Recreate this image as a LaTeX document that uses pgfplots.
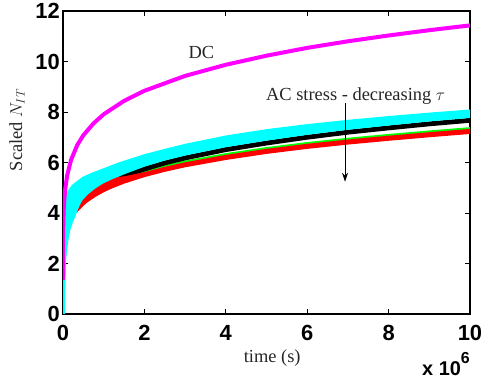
\documentclass[border=0pt]{standalone}
\usepackage{pgfplots}
\pgfplotsset{compat=1.18}
\usepackage{fontspec}
\setmainfont{Liberation Serif}
\setsansfont{Liberation Sans}
\usetikzlibrary{arrows.meta}

\begin{document}
\begin{tikzpicture}
\begin{axis}[
  scale only axis, width=407bp, height=303bp,
  xmin=0, xmax=10, ymin=0, ymax=12,
  xtick={0,2,4,6,8,10}, ytick={0,2,4,6,8,10,12},
  tick align=inside, major tick length=5bp,
  axis line style={line width=1.2bp},
  tick style={line width=0.8bp, black},
  /pgf/number format/assume math mode=true,
  ticklabel style={font=\fontsize{22}{22}\selectfont\sffamily\bfseries},
  xticklabel style={inner sep=0pt, yshift=-11bp},
  yticklabel style={inner sep=0pt, xshift=-3bp},
  xlabel={time (s)}, ylabel={Scaled $N_{IT}$},
  label style={font=\fontsize{18.5}{20}\selectfont, text=black!85},
  xlabel style={at={(axis description cs:0.514,-0.145)}, anchor=center},
  ylabel style={at={(axis description cs:-0.113,0.607)}, anchor=center},
]
% green
\addplot[color={rgb,1:red,0;green,1;blue,0}, line width=4bp] coordinates {
(1.5,5.35) (2,5.61) (2.5,5.82) (3,6.00) (4,6.29) (5,6.53) (6,6.73) (7,6.90) (8,7.05) (9,7.19) (10,7.32)};
% black
\addplot[black, line width=4.8bp] coordinates {
(1.2,5.24) (1.5,5.45) (2,5.74) (2.5,5.98) (3,6.18) (4,6.51) (5,6.77) (6,7.00) (7,7.20) (8,7.37) (9,7.53) (10,7.67)};
% red band
\addplot[draw=none, fill={rgb,1:red,1;green,0;blue,0}] coordinates {
(0.34,4.01) (0.4,4.12) (0.5,4.28) (0.6,4.42) (0.8,4.64) (1,4.82) (1.2,4.97) (1.5,5.16) (2,5.42) (2.5,5.63) (3,5.81) (4,6.10) (5,6.34) (6,6.54) (7,6.71) (8,6.86) (9,7.00) (10,7.13)
(10,7.33) (9,7.20) (8,7.06) (7,6.91) (6,6.74) (5,6.54) (4,6.30) (3,6.01) (2.5,5.83) (2,5.62) (1.5,5.45) (1.2,5.42) (1,5.30) (0.8,5.10) (0.6,4.85) (0.5,4.70) (0.4,4.50) (0.34,4.35)};
% cyan band
\addplot[draw=none, fill={rgb,1:red,0;green,1;blue,1}] coordinates {
(0.005,0) (0.006,3.0) (0.01,3.6) (0.03,4.3) (0.06,4.65) (0.1,4.84) (0.22,5.11) (0.467,5.42) (0.7,5.59) (0.91,5.72) (1.2,5.90) (1.4,6.02) (2,6.33) (2.5,6.54) (3,6.74) (4,7.07) (5,7.32) (6,7.52) (7,7.69) (8,7.84) (9,7.975) (10,8.10)
(10,7.765) (9,7.625) (8,7.465) (7,7.295) (6,7.095) (5,6.865) (4,6.605) (3,6.275) (2.5,6.075) (2,5.835) (1.5,5.53) (1.2,5.33) (1,5.18) (0.8,4.98) (0.6,4.72) (0.467,4.48) (0.4,4.27) (0.34,4.02) (0.3,3.85) (0.24,3.62) (0.18,3.33) (0.14,3.0) (0.1,2.55) (0.08,2.2) (0.065,1.8) (0.055,1.0) (0.05,0)};
% DC
\addplot[color={rgb,1:red,1;green,0;blue,1}, line width=4bp] coordinates {
(0.000016,1.35) (0.0001,1.81) (0.0005,2.35) (0.002,2.93) (0.005,3.39) (0.01,3.79) (0.02,4.23) (0.05,4.90) (0.1,5.47) (0.2,6.11) (0.35,6.69) (0.5,7.08) (0.75,7.55) (1,7.91) (1.5,8.44) (2,8.84) (3,9.43) (4,9.87) (5,10.23) (6,10.54) (7,10.80) (8,11.03) (9,11.24) (10,11.43)};
\node[anchor=base, font=\fontsize{18.5}{20}\selectfont, text=black!85] at (axis cs:3.40,10.1) {DC};
\node[anchor=base, font=\fontsize{18.5}{20}\selectfont, text=black!85] at (axis cs:7.19,8.47) {AC stress - decreasing $\tau$};
\draw[line width=0.8bp, -{Stealth[length=9bp,width=6bp,inset=3bp]}] (axis cs:6.93,8.34) -- (axis cs:6.93,5.24);
\end{axis}
\node[anchor=base east, font=\fontsize{20}{20}\selectfont\sffamily\bfseries, inner sep=0pt] at (407bp,-61bp) {x 10\raisebox{12bp}{\fontsize{16}{16}\selectfont 6}};
\pgfresetboundingbox
\path[use as bounding box] (-63bp,-71bp) rectangle (421bp,314bp);
\end{tikzpicture}
\end{document}
